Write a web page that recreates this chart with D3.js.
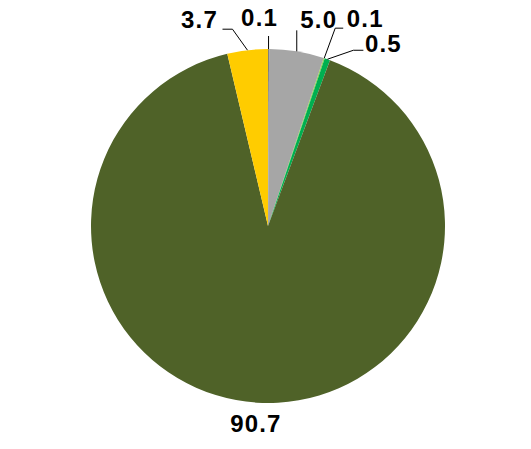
<!DOCTYPE html>
<html>
<head>
<meta charset="utf-8">
<script src="https://cdn.jsdelivr.net/npm/d3@7"></script>
<style>
  html, body { margin: 0; padding: 0; background: #fff; }
  svg { display: block; }
</style>
</head>
<body>
<div id="chart"></div>
<script>
(function () {
  'use strict';

  // slice values, clockwise from 12 o'clock
  var labels = ['0.1', '5.0', '0.1', '0.5', '90.7', '3.7'];
  var values = [0.1, 5.0, 0.1, 0.5, 90.7, 3.7];
  var colors = ['#7f7f7f', '#a6a6a6', '#92d050', '#00b050', '#4f6228', '#ffcc00'];

  var width = 531, height = 449;
  var cx = 268, cy = 226, radius = 177;

  // label placement relative to the slice's outer edge point: text centre offset
  // and leader elbow/end offsets (null = no leader)
  var labelLayout = [
    { tx: -9,  ty: -23, leader: [[0, -13]] },
    { tx: 22,  ty: -23, leader: [[0, -21]] },
    { tx: 41,  ty: -31, leader: [[11, -30], [19, -30]] },
    { tx: 56,  ty: -7,  leader: [[26, -9], [36, -9]] },
    { tx: -1,  ty: 29,  leader: null },
    { tx: -48, ty: -22, leader: [[-15, -21], [-25, -21]] }
  ];

  var svg = d3.select('#chart').append('svg')
    .attr('width', width)
    .attr('height', height);

  var g = svg.append('g')
    .attr('transform', 'translate(' + cx + ',' + cy + ')');

  var pie = d3.pie().sort(null).value(function (d) { return d; });
  var arcs = pie(values);

  var arc = d3.arc().innerRadius(0).outerRadius(radius);

  g.selectAll('path.slice')
    .data(arcs)
    .enter()
    .append('path')
    .attr('class', 'slice')
    .attr('d', arc)
    .style('fill', function (d, i) { return colors[i]; })
    .style('stroke', 'none');

  // point on the rim at the middle of each slice
  var rimPoint = function (d) {
    var a = (d.startAngle + d.endAngle) / 2;
    return [Math.sin(a) * radius, -Math.cos(a) * radius];
  };

  var lbl = g.selectAll('g.lbl')
    .data(arcs)
    .enter()
    .append('g')
    .attr('class', 'lbl');

  lbl.each(function (d) {
    var lay = labelLayout[d.index];
    var p = rimPoint(d);
    var node = d3.select(this);

    if (lay.leader) {
      var pts = [p].concat(lay.leader.map(function (o) {
        return [p[0] + o[0], p[1] + o[1]];
      }));
      node.append('polyline')
        .attr('points', pts.map(function (q) { return q.join(','); }).join(' '))
        .style('fill', 'none')
        .style('stroke', '#000')
        .style('stroke-width', 1);
    }

    node.append('text')
      .attr('x', p[0] + lay.tx)
      .attr('y', p[1] + lay.ty)
      .attr('text-anchor', 'middle')
      .style('font-family', 'Arial, "Liberation Sans", sans-serif')
      .style('font-weight', 'bold')
      .style('font-size', '24px')
      .style('letter-spacing', '1.2px')
      .style('fill', '#000')
      .text(labels[d.index]);
  });
}());
</script>
</body>
</html>
